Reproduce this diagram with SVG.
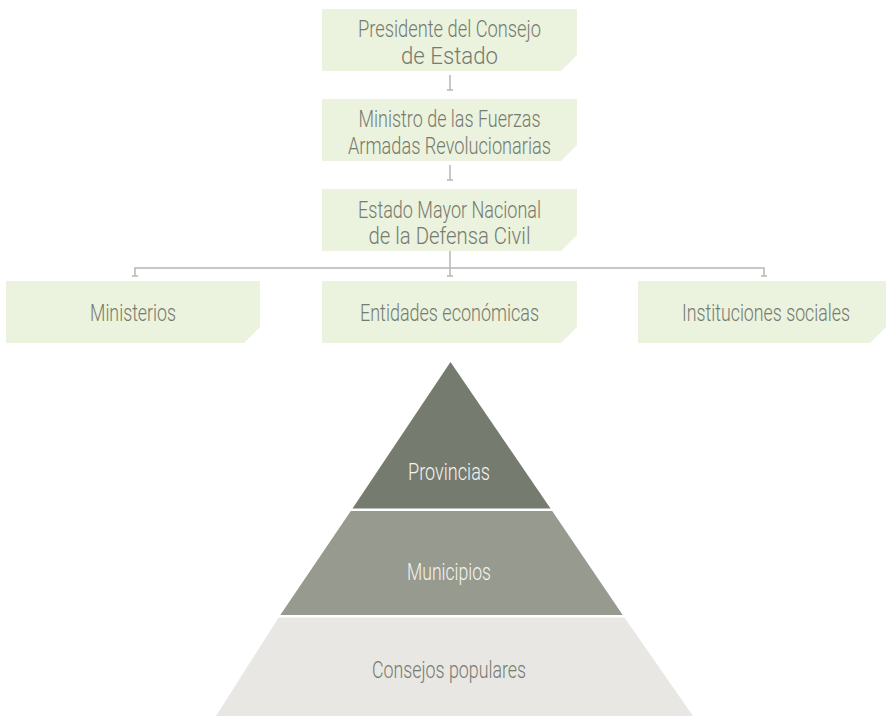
<svg xmlns="http://www.w3.org/2000/svg" width="887" height="716" viewBox="0 0 887 716">
<defs>
<style>
.box{fill:#ebf2dd;}
.t{font-family:Roboto,"Liberation Sans",sans-serif;font-weight:300;font-size:23px;fill:#767b6f;text-anchor:middle;}
.tw{fill:#f3f3f0;}
.conn{stroke:#b7b8b2;stroke-width:1.5;fill:none;}
</style>
</defs>
<rect width="887" height="716" fill="#ffffff"/>
<g id="connectors">
<path class="conn" d="M450 75V90M447 90H453"/>
<path class="conn" d="M450 165V180M447 180H453"/>
<path class="conn" d="M450 251V268M135 276V268H764V276M132 276H138M447 276H453M761 276H767M450 268V276"/>
</g>
<g id="n1">
<path class="box" d="M322 9H577V55L561 71H322Z"/>
<text class="t" x="449.5" y="37" textLength="183" lengthAdjust="spacingAndGlyphs">Presidente del Consejo</text>
<text class="t" x="449.5" y="64" textLength="97" lengthAdjust="spacingAndGlyphs">de Estado</text>
</g>
<g id="n2">
<path class="box" d="M322 99H577V145L561 161H322Z"/>
<text class="t" x="449.5" y="127" textLength="182" lengthAdjust="spacingAndGlyphs">Ministro de las Fuerzas</text>
<text class="t" x="449.5" y="153.5" textLength="203" lengthAdjust="spacingAndGlyphs">Armadas Revolucionarias</text>
</g>
<g id="n3">
<path class="box" d="M322 189H577V235L561 251H322Z"/>
<text class="t" x="449.5" y="217.5" textLength="183" lengthAdjust="spacingAndGlyphs">Estado Mayor Nacional</text>
<text class="t" x="449.5" y="244" textLength="162" lengthAdjust="spacingAndGlyphs">de la Defensa Civil</text>
</g>
<g id="n4">
<path class="box" d="M6 281H260V327L244 343H6Z"/>
<text class="t" x="133" y="321" textLength="86" lengthAdjust="spacingAndGlyphs">Ministerios</text>
</g>
<g id="n5">
<path class="box" d="M322 281H577V327L561 343H322Z"/>
<text class="t" x="449.5" y="321" textLength="179" lengthAdjust="spacingAndGlyphs">Entidades económicas</text>
</g>
<g id="n6">
<path class="box" d="M638 281H886V327L870 343H638Z"/>
<text class="t" x="766" y="321" textLength="168" lengthAdjust="spacingAndGlyphs">Instituciones sociales</text>
</g>
<g id="provincias">
<path d="M450.5 362L550.5 508.5H352.5Z" fill="#767b6f"/>
<text class="t tw" x="449" y="479.5" textLength="82" lengthAdjust="spacingAndGlyphs">Provincias</text>
</g>
<g id="municipios">
<path d="M350.8 511H552.2L622.7 615H280.3Z" fill="#979a8f"/>
<text class="t tw" x="449" y="579.5" textLength="84" lengthAdjust="spacingAndGlyphs">Municipios</text>
</g>
<g id="consejos">
<path d="M278.6 617.5H624.4L693 716H216Z" fill="#e8e7e4"/>
<text class="t" x="449" y="677.5" textLength="154" lengthAdjust="spacingAndGlyphs">Consejos populares</text>
</g>
</svg>
